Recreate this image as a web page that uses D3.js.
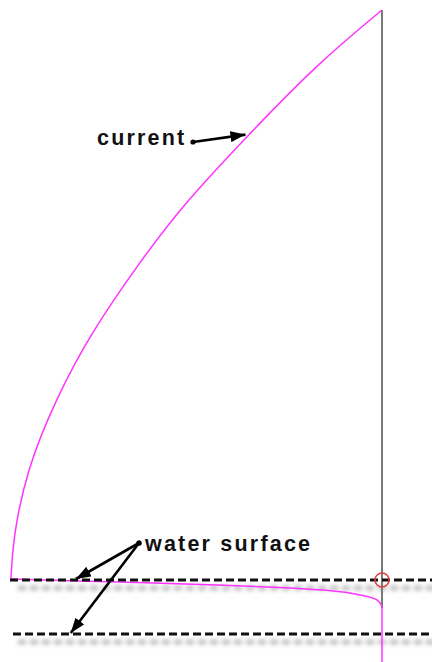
<!DOCTYPE html>
<html>
<head>
<meta charset="utf-8">
<script src="https://cdn.jsdelivr.net/npm/d3@7"></script>
<style>
  html, body { margin: 0; padding: 0; background: #fff; }
  svg { display: block; }
  .lbl { font-family: "Liberation Sans", Arial, sans-serif; font-weight: bold; font-size: 21.5px; letter-spacing: 2.2px; fill: #111; }
</style>
</head>
<body>
<svg id="chart" width="432" height="662"></svg>
<script>
// velocity (% of max, measured leftwards from the vertical) vs depth (% down to the water surface)
var profileDepth = [0, 9.5, 22.2, 34.2, 44.2, 57.0, 68.0, 80.6, 93.0, 100];
var profileVel   = [0, 17.5, 36.4, 53.6, 65.2, 78.7, 87.6, 95.7, 99.5, 100];
// tail of the curve below the surface
var tailDepth = [100, 100.25, 100.5, 101.05, 101.6, 102.1, 102.8, 103.7, 105.1, 114.6];
var tailVel   = [99.7, 86.5, 73.3, 44.5, 24.8, 13.2, 5.9, 1.3, 0, 0];
var surfaceLevels = [100, 109.5];
var axisDepth = [0, 105.1];
var labels = ["current", "water surface"];

var svg = d3.select("#chart");
var x = d3.scaleLinear().domain([0, 100]).range([382, 11]);
var y = d3.scaleLinear().domain([0, 100]).range([10, 579]);

var defs = svg.append("defs");
defs.append("filter").attr("id", "blur")
    .attr("filterUnits", "userSpaceOnUse")
    .attr("x", 0).attr("y", 0).attr("width", 432).attr("height", 662)
  .append("feGaussianBlur").attr("stdDeviation", 2);
defs.append("marker").attr("id", "head")
    .attr("viewBox", "0 0 15 11").attr("refX", 15).attr("refY", 5.5)
    .attr("markerWidth", 15).attr("markerHeight", 11).attr("orient", "auto")
    .attr("markerUnits", "userSpaceOnUse")
  .append("path").attr("d", "M0,0L15,5.5L0,11z").attr("fill", "#000");

// shadows of the dashed surface lines
svg.selectAll(".shadow").data(surfaceLevels).enter().append("line")
    .attr("x1", 18).attr("x2", 440)
    .attr("y1", d => y(d) + 9).attr("y2", d => y(d) + 9)
    .attr("stroke", "#bdbdbd").attr("stroke-width", 5)
    .attr("stroke-dasharray", "8,4").attr("filter", "url(#blur)");

// vertical reference line
svg.append("line")
    .attr("x1", x(0)).attr("x2", x(0))
    .attr("y1", y(axisDepth[0])).attr("y2", y(axisDepth[1]))
    .attr("stroke", "#7a7a7a").attr("stroke-width", 2);

// current profile
var prof = profileVel.map((v, i) => [v, profileDepth[i]]);
var tail = tailVel.map((v, i) => [v, tailDepth[i]]);
svg.append("path").datum(prof)
    .attr("d", d3.line().x(d => x(d[0])).y(d => y(d[1])).curve(d3.curveBasis))
    .attr("fill", "none").attr("stroke", "#ff33ff").attr("stroke-width", 1.5);
svg.append("path").datum(tail)
    .attr("d", d3.line().x(d => x(d[0])).y(d => y(d[1])).curve(d3.curveMonotoneY))
    .attr("fill", "none").attr("stroke", "#ff33ff").attr("stroke-width", 1.5);

// dashed surface lines
svg.selectAll(".surf").data(surfaceLevels).enter().append("line")
    .attr("x1", (d, i) => i ? 13 : 10).attr("x2", 432)
    .attr("y1", d => y(d) + 1).attr("y2", d => y(d) + 1)
    .attr("stroke", "#111").attr("stroke-width", 3)
    .attr("stroke-dasharray", "8,4");

// marker circle at the surface
svg.append("circle").attr("cx", x(0)).attr("cy", y(surfaceLevels[0]) + 1).attr("r", 7)
    .attr("fill", "none").attr("stroke", "#e04040").attr("stroke-width", 1.5);

// annotations
function arrow(from, to) {
  svg.append("line")
      .attr("x1", from[0]).attr("y1", from[1]).attr("x2", to[0]).attr("y2", to[1])
      .attr("stroke", "#000").attr("stroke-width", 2.6).attr("marker-end", "url(#head)");
  svg.append("circle").attr("cx", from[0]).attr("cy", from[1]).attr("r", 2.6).attr("fill", "#000");
}

svg.append("text").attr("class", "lbl").attr("x", 97).attr("y", 145).text(labels[0]);
arrow([193, 142], [x(36.8), y(21.9)]);

svg.append("text").attr("class", "lbl").attr("x", 145).attr("y", 551).text(labels[1]);
arrow([139, 543], [x(82.5), y(surfaceLevels[0])]);
arrow([139, 543], [x(83.9), y(surfaceLevels[1])]);
</script>
</body>
</html>
